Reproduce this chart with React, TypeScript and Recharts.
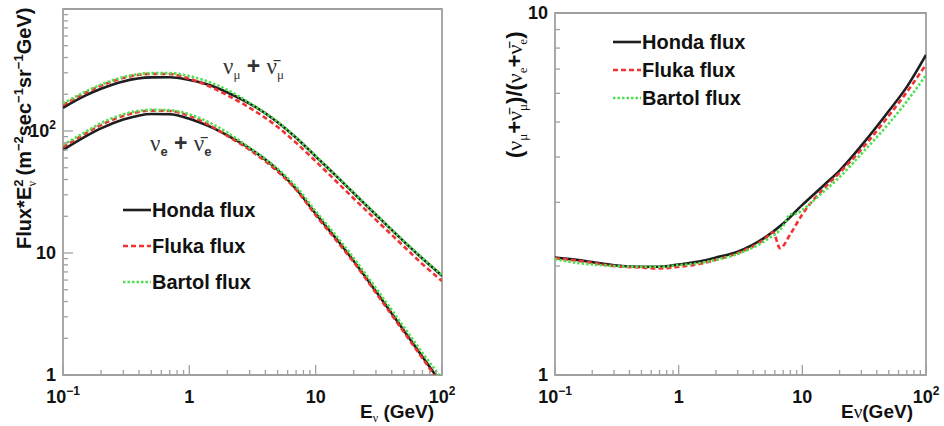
import React from 'react';
import { LineChart, Line, XAxis, YAxis, ReferenceArea, Legend } from 'recharts';

// neutrino energy grid (GeV)
const energies = [0.1, 0.15, 0.2, 0.3, 0.5, 0.7, 1, 1.5, 2, 3, 5, 7, 10, 15, 20, 30, 50, 70, 100];

// Flux * E^2, nu_mu + anti nu_mu
const hondaMu = [155, 195, 222, 255, 275, 276, 262, 235, 207, 168, 118, 88, 62, 41.5, 31, 20.6, 12.4, 9.0, 6.5];
const flukaMu = [163, 205, 235, 272, 294, 293, 268, 228, 196, 155, 108, 80, 56.5, 37.5, 28, 18.7, 11.3, 8.1, 5.9];
const bartolMu = [168, 210, 240, 276, 298, 298, 282, 248, 217, 170, 119, 88.5, 62.5, 41.8, 31.3, 20.8, 12.5, 9.1, 6.6];

// Flux * E^2, nu_e + anti nu_e
const hondaE = [70, 90, 105, 124, 138, 137, 126, 107, 92, 72, 48, 33.5, 21, 12.6, 8.6, 4.85, 2.31, 1.41, 0.84];
const flukaE = [74, 95, 112, 133, 147, 146, 133, 109, 91, 70, 46.5, 33, 20.4, 12.2, 8.4, 4.7, 2.24, 1.37, 0.81];
const bartolE = [77, 98, 116, 137, 149, 148, 137, 115, 97, 73, 49, 35, 22, 13.3, 9.1, 5.15, 2.47, 1.52, 0.93];

// (nu_mu + anti nu_mu) / (nu_e + anti nu_e)
const hondaRatio = [2.11, 2.08, 2.05, 2.01, 1.99, 1.99, 2.02, 2.06, 2.11, 2.19, 2.4, 2.62, 2.95, 3.35, 3.67, 4.3, 5.36, 6.25, 7.66];
const flukaRatioEnergies = [0.1, 0.15, 0.2, 0.3, 0.5, 0.7, 1, 1.5, 2, 3, 5, 5.8, 6.6, 8, 10, 15, 20, 30, 50, 70, 100];
const flukaRatio = [2.1, 2.07, 2.04, 2.0, 1.98, 1.97, 1.99, 2.03, 2.08, 2.17, 2.38, 2.48, 2.24, 2.45, 2.78, 3.28, 3.62, 4.2, 5.2, 6.05, 7.2];
const bartolRatioEnergies = [0.1, 0.15, 0.2, 0.3, 0.5, 0.7, 1, 1.5, 2, 3, 5, 7, 8, 9, 10, 15, 20, 30, 50, 70, 100];
const bartolRatio = [2.09, 2.04, 2.02, 2.0, 1.99, 1.99, 2.01, 2.04, 2.08, 2.16, 2.35, 2.58, 2.78, 2.79, 2.86, 3.22, 3.52, 4.08, 4.95, 5.7, 6.74];

// axis ticks
const xTicks = [0.1, 0.2, 0.3, 0.4, 0.5, 0.6, 0.7, 0.8, 0.9, 1, 2, 3, 4, 5, 6, 7, 8, 9, 10, 20, 30, 40, 50, 60, 70, 80, 90, 100];
const xMajor = [0.1, 1, 10, 100];
const xMajorBase = ['10', '1', '10', '10'];
const xMajorSup = ['\u22121', '', '', '2'];

const fluxTicks = [1, 2, 3, 4, 5, 6, 7, 8, 9, 10, 20, 30, 40, 50, 60, 70, 80, 90, 100, 200, 300, 400, 500, 600, 700, 800, 900, 1000];
const fluxMajor = [1, 10, 100];
const fluxMajorBase = ['1', '10', '10'];
const fluxMajorSup = ['', '', '2'];

const ratioTicks = [1, 2, 3, 4, 5, 6, 7, 8, 9, 10];
const ratioMajor = [1, 10];
const ratioMajorBase = ['1', '10'];
const ratioMajorSup = ['', ''];

const legendNames = ['Honda flux', 'Fluka flux', 'Bartol flux'];
const COLORS = ['#1e1e1e', '#f03232', '#4fe04f'];
const DASHES = ['', '5 3', '2.5 2'];

const AXIS = '#a0a0a0';
const SANS = '"Liberation Sans", Arial, sans-serif';
const SERIF = '"Liberation Serif", "DejaVu Serif", serif';

const toPoints = (xs: number[], ys: number[]) => xs.map((e, i) => ({ e, v: ys[i] }));

const XTick = (props: any) => {
  const { x, y, payload } = props;
  const axisY = y - 4;
  const i = xMajor.indexOf(payload.value);
  const len = i >= 0 ? 10 : 5;
  return (
    <g>
      <line x1={x} x2={x} y1={axisY} y2={axisY - len} stroke={AXIS} strokeWidth={1.3} />
      {i >= 0 && (
        <text x={x} y={axisY + 28} textAnchor="middle" fontFamily={SANS} fontWeight="bold" fontSize={18} fill="#111">
          {xMajorBase[i]}
          {xMajorSup[i] && (
            <tspan dy={-8} fontSize={12}>
              {xMajorSup[i]}
            </tspan>
          )}
        </text>
      )}
    </g>
  );
};

const makeYTick = (major: number[], base: string[], sup: string[]) => (props: any) => {
  const { x, y, payload } = props;
  const axisX = x + 6;
  const i = major.indexOf(payload.value);
  const len = i >= 0 ? 10 : 5;
  return (
    <g>
      <line x1={axisX} x2={axisX + len} y1={y} y2={y} stroke={AXIS} strokeWidth={1.3} />
      {i >= 0 && (
        <text x={x - 1} y={y} dy="0.36em" textAnchor="end" fontFamily={SANS} fontWeight="bold" fontSize={18} fill="#111">
          {base[i]}
          {sup[i] && (
            <tspan dy={-8} fontSize={12}>
              {sup[i]}
            </tspan>
          )}
        </text>
      )}
    </g>
  );
};

const FluxTick = makeYTick(fluxMajor, fluxMajorBase, fluxMajorSup);
const RatioTick = makeYTick(ratioMajor, ratioMajorBase, ratioMajorSup);

const renderLegend = (rowHeight: number) => () => (
  <div style={{ display: 'flex', flexDirection: 'column' }}>
    {legendNames.map((n, i) => (
      <div key={n} style={{ display: 'flex', alignItems: 'center', height: rowHeight }}>
        <svg width={28} height={6}>
          <line x1={0} x2={28} y1={3} y2={3} stroke={COLORS[i]} strokeWidth={2.6} strokeDasharray={DASHES[i]} />
        </svg>
        <span style={{ font: `bold 20px ${SANS}`, color: '#111', marginLeft: 1, whiteSpace: 'nowrap' }}>{n}</span>
      </div>
    ))}
  </div>
);

const seriesLine = (key: string, data: any[], i: number) => (
  <Line
    key={key}
    data={data}
    dataKey="v"
    type="monotone"
    stroke={COLORS[i]}
    strokeWidth={2.6}
    strokeDasharray={DASHES[i]}
    dot={false}
    activeDot={false}
    isAnimationActive={false}
  />
);

const FluxChart = () => (
  <LineChart width={472} height={426} margin={{ top: 9, right: 30, bottom: 0, left: 0 }}>
    <XAxis
      dataKey="e"
      type="number"
      scale="log"
      domain={[0.1, 100]}
      ticks={xTicks}
      interval={0}
      allowDataOverflow
      axisLine={false}
      tickLine={false}
      tickSize={0}
      tickMargin={4}
      height={51}
      tick={XTick}
    />
    <YAxis
      type="number"
      scale="log"
      domain={[1, 1000]}
      ticks={fluxTicks}
      interval={0}
      allowDataOverflow
      axisLine={false}
      tickLine={false}
      tickSize={0}
      tickMargin={6}
      width={63}
      tick={FluxTick}
    />
    <ReferenceArea x1={0.1} x2={100} y1={1} y2={1000} fill="none" stroke={AXIS} strokeWidth={1.8} ifOverflow="visible" />
    {seriesLine('hmu', toPoints(energies, hondaMu), 0)}
    {seriesLine('he', toPoints(energies, hondaE), 0)}
    {seriesLine('fmu', toPoints(energies, flukaMu), 1)}
    {seriesLine('fe', toPoints(energies, flukaE), 1)}
    {seriesLine('bmu', toPoints(energies, bartolMu), 2)}
    {seriesLine('be', toPoints(energies, bartolE), 2)}
    <Legend
      layout="vertical"
      align="center"
      verticalAlign="middle"
      content={renderLegend(36)}
      wrapperStyle={{ left: 123, top: 192, width: 'auto', height: 'auto' }}
    />
  </LineChart>
);

const RatioChart = () => (
  <LineChart width={472} height={426} margin={{ top: 13, right: 18, bottom: 0, left: 0 }}>
    <XAxis
      dataKey="e"
      type="number"
      scale="log"
      domain={[0.1, 100]}
      ticks={xTicks}
      interval={0}
      allowDataOverflow
      axisLine={false}
      tickLine={false}
      tickSize={0}
      tickMargin={4}
      height={51}
      tick={XTick}
    />
    <YAxis
      type="number"
      scale="log"
      domain={[1, 10]}
      ticks={ratioTicks}
      interval={0}
      allowDataOverflow
      axisLine={false}
      tickLine={false}
      tickSize={0}
      tickMargin={6}
      width={83}
      tick={RatioTick}
    />
    <ReferenceArea x1={0.1} x2={100} y1={1} y2={10} fill="none" stroke={AXIS} strokeWidth={1.8} ifOverflow="visible" />
    {seriesLine('hr', toPoints(energies, hondaRatio), 0)}
    {seriesLine('fr', toPoints(flukaRatioEnergies, flukaRatio), 1)}
    {seriesLine('br', toPoints(bartolRatioEnergies, bartolRatio), 2)}
    <Legend
      layout="vertical"
      align="center"
      verticalAlign="middle"
      content={renderLegend(28)}
      wrapperStyle={{ left: 141, top: 28, width: 'auto', height: 'auto' }}
    />
  </LineChart>
);

// axis titles and curve labels drawn over both panels
const Annotations = () => (
  <svg width={944} height={426} style={{ position: 'absolute', left: 0, top: 0, pointerEvents: 'none' }}>
    <g fontFamily={SANS} fontWeight="bold" fill="#111">
      <text transform="translate(31,249) rotate(-90)" fontSize={20}>
        Flux*E
        <tspan dy={-8} fontSize={13}>2</tspan>
        <tspan dx={-7} dy={13} fontSize={12} fontFamily={SERIF} fontWeight="normal">ν</tspan>
        <tspan dy={-5}> (m</tspan>
        <tspan dy={-8} fontSize={13}>−2</tspan>
        <tspan dy={8}>sec</tspan>
        <tspan dy={-8} fontSize={13}>−1</tspan>
        <tspan dy={8}>sr</tspan>
        <tspan dy={-8} fontSize={13}>−1</tspan>
        <tspan dy={8}>GeV)</tspan>
      </text>
      <text x={360} y={418} fontSize={19}>
        E
        <tspan dy={4} fontSize={12} fontFamily={SERIF} fontWeight="normal">ν</tspan>
        <tspan dy={-4}> (GeV)</tspan>
      </text>
      <text x={841} y={418} fontSize={19}>
        E
        <tspan fontFamily={SERIF} fontWeight="normal">ν</tspan>
        (GeV)
      </text>
      <text transform="translate(522,158) rotate(-90)" fontSize={22}>
        (
        <tspan fontFamily={SERIF} fontWeight="normal">ν</tspan>
        <tspan dy={5} fontSize={13} fontFamily={SERIF} fontWeight="normal">μ</tspan>
        <tspan dy={-5}>+</tspan>
        <tspan fontFamily={SERIF} fontWeight="normal">ν̄</tspan>
        <tspan dy={5} fontSize={13} fontFamily={SERIF} fontWeight="normal">μ</tspan>
        <tspan dy={-5}>)/(</tspan>
        <tspan fontFamily={SERIF} fontWeight="normal">ν</tspan>
        <tspan dy={5} fontSize={13} fontFamily={SERIF} fontWeight="normal">e</tspan>
        <tspan dy={-5}>+</tspan>
        <tspan fontFamily={SERIF} fontWeight="normal">ν̄</tspan>
        <tspan dy={5} fontSize={13} fontFamily={SERIF} fontWeight="normal">e</tspan>
        <tspan dy={-5}>)</tspan>
      </text>
    </g>
    <g fontFamily={SERIF} fill="#333" fontSize={23}>
      <text x={223} y={74}>
        ν<tspan dy={5} fontSize={13}>μ</tspan>
        <tspan dy={-5} fontFamily={SANS} fontWeight="bold"> + </tspan>
        ν̄<tspan dy={5} fontSize={13}>μ</tspan>
      </text>
      <text x={150} y={151}>
        ν<tspan dy={5} fontSize={13} fontFamily={SANS} fontWeight="bold">e</tspan>
        <tspan dy={-5} fontFamily={SANS} fontWeight="bold"> + </tspan>
        ν̄<tspan dy={5} fontSize={13} fontFamily={SANS} fontWeight="bold">e</tspan>
      </text>
    </g>
  </svg>
);

export default function App() {
  return (
    <div style={{ position: 'absolute', left: 0, top: 0, width: 944, height: 426, background: '#fff', overflow: 'hidden' }}>
      <div style={{ position: 'absolute', left: 0, top: 0 }}>
        <FluxChart />
      </div>
      <div style={{ position: 'absolute', left: 472, top: 0 }}>
        <RatioChart />
      </div>
      <Annotations />
    </div>
  );
}
